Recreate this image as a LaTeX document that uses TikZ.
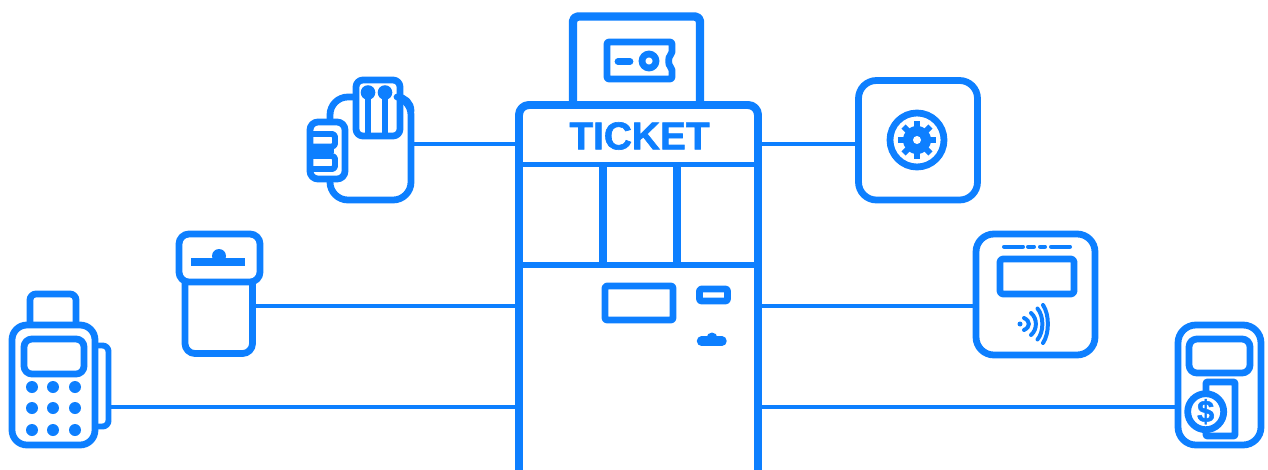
\documentclass[tikz,border=0pt]{standalone}
\usepackage{fontspec}
\setmainfont{Liberation Sans}
\newfontfamily\titlefont[FakeBold=1.6]{Liberation Sans Bold}
\definecolor{ticketblue}{HTML}{0D7FFF}
\tikzset{
  stroke/.style={draw=ticketblue,line width=#1*0.567pt,line join=round},
  stroke/.default=6.8,
  corner/.style={rounded corners=#1*0.567pt},
  panel/.style={stroke=6.8,fill=white},
  wire/.style={draw=ticketblue,line width=2.3pt},
  dashline/.style={stroke=4,line cap=round},
  titletext/.style={text=ticketblue,font=\titlefont\fontsize{22.1}{26}\selectfont,inner sep=0pt}
}
\begin{document}
\begin{tikzpicture}[x=0.02cm,y=-0.02cm]
  \useasboundingbox (0,0) rectangle (1268,470);
  % connector ends
  \coordinate (kioskA) at (519,144);
  \coordinate (kioskB) at (519,306);
  \coordinate (kioskC) at (519,407);
  \coordinate (kioskD) at (758,144);
  \coordinate (kioskE) at (758,306);
  \coordinate (kioskF) at (758,407);
  \coordinate (cards) at (411,144);
  \coordinate (slot) at (252,306);
  \coordinate (pos) at (108,407);
  \coordinate (gear) at (858,144);
  \coordinate (nfc) at (976,306);
  \coordinate (cash) at (1178,407);
  \foreach \a/\b in {cards/kioskA,slot/kioskB,pos/kioskC,kioskD/gear,kioskE/nfc,kioskF/cash}
    \draw[wire] (\a)--(\b);
  % kiosk
  \draw[panel,stroke=8.5,corner=5] (573,105)--(573,16.5)--(700,16.5)--(700,105);
  \draw[stroke=8,corner=10] (519,470)--(519,105)--(758,105)--(758,470);
  \draw[stroke=6] (519,164.5)--(758,164.5);
  \draw[stroke=6] (519,265)--(758,265);
  \foreach \x in {603,677}
    \draw[stroke=8] (\x,164.5)--(\x,265);
  \node[titletext] (title) at (639.5,136) {TICKET};
  % ticket
  \draw[stroke,corner=2] (607,42)--(672,42)--(672,54) .. controls (668,57) and (668,65) .. (672,68)--(672,79)--(607,79)--cycle;
  \draw[stroke,line cap=round] (618,61.5)--(630,61.5);
  \draw[stroke] (649,61) circle (7);
  % kiosk parts
  \draw[stroke,corner=2] (605,286)--(673,286)--(673,320)--(605,320)--cycle;
  \draw[stroke,corner=2] (699.5,289)--(727.5,289)--(727.5,301)--(699.5,301)--cycle;
  \draw[stroke=9.5,line cap=round] (701.5,341.2)--(722,341.2);
  \fill[ticketblue] (712,338) circle (5.5);
  % cards
  \draw[stroke,corner=18] (330,97)--(411,97)--(411,200)--(330,200)--cycle;
  \draw[panel,corner=7] (356,80)--(400,80)--(400,136)--(356,136)--cycle;
  \draw[stroke,line cap=round] (397,97) .. controls (405,97) and (411,103) .. (411,111);
  \foreach \x in {368,385}{
    \fill[ticketblue] (\x,92.5) circle (7.3);
    \draw[stroke=5.5] (\x,92.5)--(\x,136);
  }
  \draw[panel,corner=8] (310,122)--(345,122)--(345,179)--(310,179)--cycle;
  \draw[stroke=6,corner=3] (310,134)--(335,134)--(335,146.5)--(310,146.5);
  \draw[stroke=6,corner=3] (310,156)--(335,156)--(335,169)--(310,169);
  \draw[stroke=4] (310,151)--(334,151);
  % slot
  \draw[panel,corner=10] (185,270)--(185,353.5)--(252.5,353.5)--(252.5,270);
  \draw[panel,corner=10] (179,234)--(260,234)--(260,282)--(179,282)--cycle;
  \fill[ticketblue] (191,258) rectangle (245,266);
  \fill[ticketblue] (219,256) circle (7);
  % pos
  \draw[stroke=6,fill=white,corner=6] (95,345.5)--(108.5,345.5)--(108.5,426.5)--(95,426.5);
  \draw[panel,corner=6] (30,325)--(30,294)--(76,294)--(76,325);
  \draw[panel,corner=15] (12,325)--(95,325)--(95,445)--(12,445)--cycle;
  \draw[stroke,corner=8] (24,339)--(84,339)--(84,374)--(24,374)--cycle;
  \foreach \x in {32,53,75}
    \foreach \y in {387,408,430}
      \fill[ticketblue] (\x,\y) circle (6);
  % gear
  \draw[panel,corner=18] (858.5,80.5)--(977.5,80.5)--(977.5,200)--(858.5,200)--cycle;
  \draw[stroke] (917,140) circle (27);
  \begin{scope}[shift={(917,140)}]
    \fill[ticketblue] (0,0) circle (14);
    \foreach \a in {0,45,...,315}
      \draw[stroke=6] (0,0)--(\a:19);
    \fill[white] (0,0) circle (4);
  \end{scope}
  % nfc
  \draw[panel,corner=18] (976,234)--(1095,234)--(1095,355)--(976,355)--cycle;
  \foreach \a/\b in {1004/1023,1028/1034,1040/1045,1051/1070}
    \draw[dashline] (\a,246.7)--(\b,246.7);
  \draw[stroke,corner=3] (1000,259)--(1074,259)--(1074,294)--(1000,294)--cycle;
  \fill[ticketblue] (1020,324) circle (2.5);
  \foreach \x/\h in {1029/6,1036/11,1042.5/15.5,1048/19}
    \draw[dashline] (\x-5,324-\h) .. controls (\x+1.5,324-\h/2) and (\x+1.5,324+\h/2) .. (\x-5,324+\h);
  % cash
  \draw[panel,corner=18] (1178,325)--(1261,325)--(1261,445)--(1178,445)--cycle;
  \draw[stroke,corner=8] (1189,339)--(1250,339)--(1250,373)--(1189,373)--cycle;
  \draw[stroke,corner=1] (1206,382)--(1235,382)--(1235,436)--(1206,436)--cycle;
  \draw[panel] (1205.7,411.7) circle (18);
  \node[text=ticketblue,font=\titlefont\fontsize{17.5}{20}\selectfont,inner sep=0pt] (dollar) at (1205.7,411.7) {\$};
\end{tikzpicture}
\end{document}
